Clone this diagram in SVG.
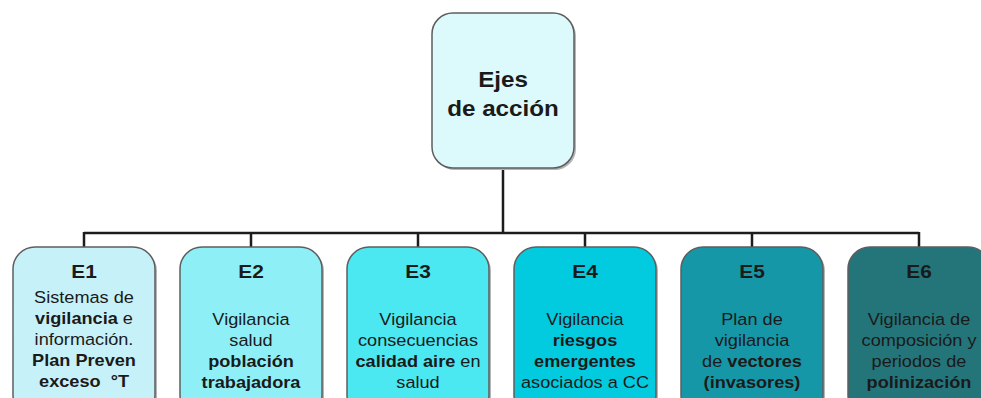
<svg xmlns="http://www.w3.org/2000/svg" width="981" height="398" viewBox="0 0 981 398">
<style>
.box{stroke:#5e5e5e;stroke-width:1.5}
.shadow{fill:#b5b5b5}
.t{font-family:"Liberation Sans",Arial,sans-serif;font-size:16.5px;fill:#1a1a1a;text-anchor:middle}
.h{font-size:19px;font-weight:bold}
.top{font-size:22px;font-weight:bold}
.b{font-weight:bold}
.conn{fill:none;stroke:#1c1c1c;stroke-width:2.5}
</style>
<rect width="981" height="398" fill="#ffffff"/>
<g id="connectors" class="conn">
<path d="M503 168V233M84 233H919M84 232V247M251 232V247M418 232V247M585 232V247M752 232V247M919 232V247"/>
</g>
<g id="root">
<rect class="shadow" x="434" y="15" width="142" height="155" rx="21"/>
<rect class="box" x="432" y="13" width="142" height="155" rx="21" fill="#dcf9fb"/>
<g transform="translate(503 0) scale(1.1 1)">
<text class="t top" x="0" y="87">Ejes</text>
<text class="t top" x="0" y="116">de acción</text>
</g>
</g>
<g id="E1">
<rect class="shadow" x="15" y="249" width="142" height="170" rx="22"/>
<rect class="box" x="13" y="247" width="142" height="170" rx="22" fill="#c7f1f9"/>
<g transform="translate(84 0) scale(1.1 1)">
<text class="t h" x="0" y="278">E1</text>
<text class="t" x="0" y="303">Sistemas de</text>
<text class="t" x="0" y="324"><tspan class="b">vigilancia</tspan> e</text>
<text class="t" x="0" y="345">información.</text>
<text class="t b" x="0" y="366">Plan Preven</text>
<text class="t b" x="0" y="387" xml:space="preserve">exceso  °T</text>
</g>
</g>
<g id="E2">
<rect class="shadow" x="182" y="249" width="142" height="170" rx="22"/>
<rect class="box" x="180" y="247" width="142" height="170" rx="22" fill="#8ef0f6"/>
<g transform="translate(251 0) scale(1.1 1)">
<text class="t h" x="0" y="278">E2</text>
<text class="t" x="0" y="325">Vigilancia</text>
<text class="t" x="0" y="346">salud</text>
<text class="t b" x="0" y="367">población</text>
<text class="t b" x="0" y="388">trabajadora</text>
</g>
</g>
<g id="E3">
<rect class="shadow" x="349" y="249" width="142" height="170" rx="22"/>
<rect class="box" x="347" y="247" width="142" height="170" rx="22" fill="#4be8f2"/>
<g transform="translate(418 0) scale(1.1 1)">
<text class="t h" x="0" y="278">E3</text>
<text class="t" x="0" y="325">Vigilancia</text>
<text class="t" x="0" y="346">consecuencias</text>
<text class="t" x="0" y="367"><tspan class="b">calidad aire</tspan> en</text>
<text class="t" x="0" y="388">salud</text>
</g>
</g>
<g id="E4">
<rect class="shadow" x="516" y="249" width="142" height="170" rx="22"/>
<rect class="box" x="514" y="247" width="142" height="170" rx="22" fill="#02cbe0"/>
<g transform="translate(585 0) scale(1.1 1)">
<text class="t h" x="0" y="278">E4</text>
<text class="t" x="0" y="325">Vigilancia</text>
<text class="t b" x="0" y="346">riesgos</text>
<text class="t b" x="0" y="367">emergentes</text>
<text class="t" x="0" y="388">asociados a CC</text>
</g>
</g>
<g id="E5">
<rect class="shadow" x="683" y="249" width="142" height="170" rx="22"/>
<rect class="box" x="681" y="247" width="142" height="170" rx="22" fill="#1697a8"/>
<g transform="translate(752 0) scale(1.1 1)">
<text class="t h" x="0" y="278">E5</text>
<text class="t" x="0" y="325">Plan de</text>
<text class="t" x="0" y="346">vigilancia</text>
<text class="t" x="0" y="367">de <tspan class="b">vectores</tspan></text>
<text class="t b" x="0" y="388">(invasores)</text>
</g>
</g>
<g id="E6">
<rect class="shadow" x="850" y="249" width="142" height="170" rx="22"/>
<rect class="box" x="848" y="247" width="142" height="170" rx="22" fill="#24757a"/>
<g transform="translate(919 0) scale(1.1 1)">
<text class="t h" x="0" y="278">E6</text>
<text class="t" x="0" y="325">Vigilancia de</text>
<text class="t" x="0" y="346">composición y</text>
<text class="t" x="0" y="367">periodos de</text>
<text class="t b" x="0" y="388">polinización</text>
</g>
</g>
</svg>
